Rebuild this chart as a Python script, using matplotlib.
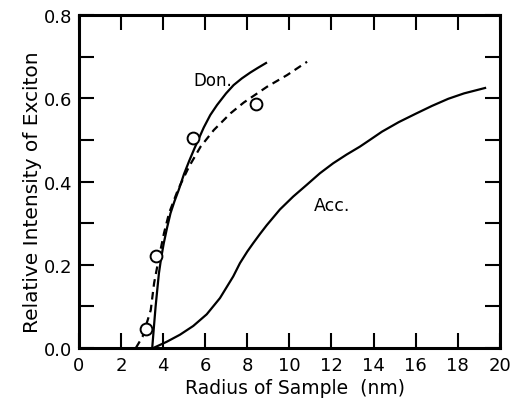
import matplotlib
matplotlib.use("Agg")
import matplotlib.pyplot as plt
from matplotlib.ticker import MultipleLocator

# ── values ───────────────────────────────────────────────────────────
don_x = [3.48, 3.56, 3.64, 3.72, 3.80, 3.91, 4.03, 4.19, 4.35, 4.54, 4.74, 4.99,
         5.24, 5.49, 5.93, 6.24, 6.56, 6.99, 7.35, 7.74, 8.14, 8.49, 8.89]
don_y = [0.0, 0.05, 0.099, 0.14, 0.18, 0.218, 0.252, 0.29, 0.324, 0.353, 0.38, 0.418,
         0.45, 0.48, 0.53, 0.56, 0.584, 0.612, 0.632, 0.648, 0.662, 0.673, 0.685]

fit_x = [2.70, 3.02, 3.41, 3.57, 3.81, 4.04, 4.28, 4.70, 5.23, 5.78, 6.41, 7.20,
         7.83, 8.94, 9.89, 10.84]
fit_y = [0.0, 0.027, 0.091, 0.156, 0.22, 0.276, 0.324, 0.38, 0.436, 0.484, 0.524,
         0.564, 0.590, 0.628, 0.656, 0.688]

acc_x = [3.53, 4.17, 4.80, 5.43, 6.07, 6.70, 7.33, 7.65, 8.00, 8.28, 8.60, 8.92,
         9.55, 10.18, 10.82, 11.45, 12.08, 12.72, 13.35, 13.82, 14.40, 15.20, 16.00,
         16.78, 17.55, 18.30, 19.30]
acc_y = [0.0, 0.015, 0.032, 0.053, 0.081, 0.120, 0.172, 0.204, 0.232, 0.252, 0.274,
         0.295, 0.333, 0.364, 0.392, 0.420, 0.444, 0.465, 0.484, 0.500, 0.520, 0.543,
         0.563, 0.582, 0.599, 0.612, 0.625]

meas_x = [3.18, 3.65, 5.44, 8.39]
meas_y = [0.045, 0.221, 0.504, 0.586]

x_ticks = list(range(0, 21, 2))
y_ticks = [0.0, 0.2, 0.4, 0.6, 0.8]


def main():
    plt.rcParams["font.family"] = "DejaVu Sans"
    plt.rcParams["lines.scale_dashes"] = False

    fig = plt.figure(figsize=(5.28, 4.02), dpi=100)
    ax = fig.add_axes([0.1496, 0.1318, 0.797, 0.828])

    ax.plot(don_x, don_y, color="black", lw=1.6)
    ax.plot(fit_x, fit_y, color="black", lw=1.6, dashes=(5.5, 3.8))
    ax.plot(acc_x, acc_y, color="black", lw=1.6)
    ax.plot(meas_x, meas_y, "o", ms=8.5, mfc="white", mec="black", mew=1.4)

    ax.text(5.44, 0.643, "Don.", fontsize=12, va="center", ha="left")
    ax.text(11.16, 0.344, "Acc.", fontsize=12.5, va="center", ha="left")

    ax.set_xlim(0, 20)
    ax.set_ylim(0, 0.8)
    ax.set_xticks(x_ticks)
    ax.set_yticks(y_ticks)
    ax.set_yticklabels([f"{v:.1f}" for v in y_ticks])
    ax.yaxis.set_minor_locator(MultipleLocator(0.1))

    ax.tick_params(which="both", direction="in", top=True, right=True,
                   length=10.5, width=1.5, labelsize=13)
    ax.tick_params(axis="x", pad=6)
    ax.tick_params(axis="y", pad=5)
    for sp in ax.spines.values():
        sp.set_linewidth(2.2)

    ax.set_xlabel("Radius of Sample  (nm)", fontsize=13.5)
    ax.set_ylabel("Relative Intensity of Exciton", fontsize=14.5)
    ax.xaxis.set_label_coords(0.513, -0.09)
    ax.yaxis.set_label_coords(-0.088, 0.47)

    fig.savefig("out.png", dpi=100)
    plt.close(fig)


if __name__ == "__main__":
    main()
